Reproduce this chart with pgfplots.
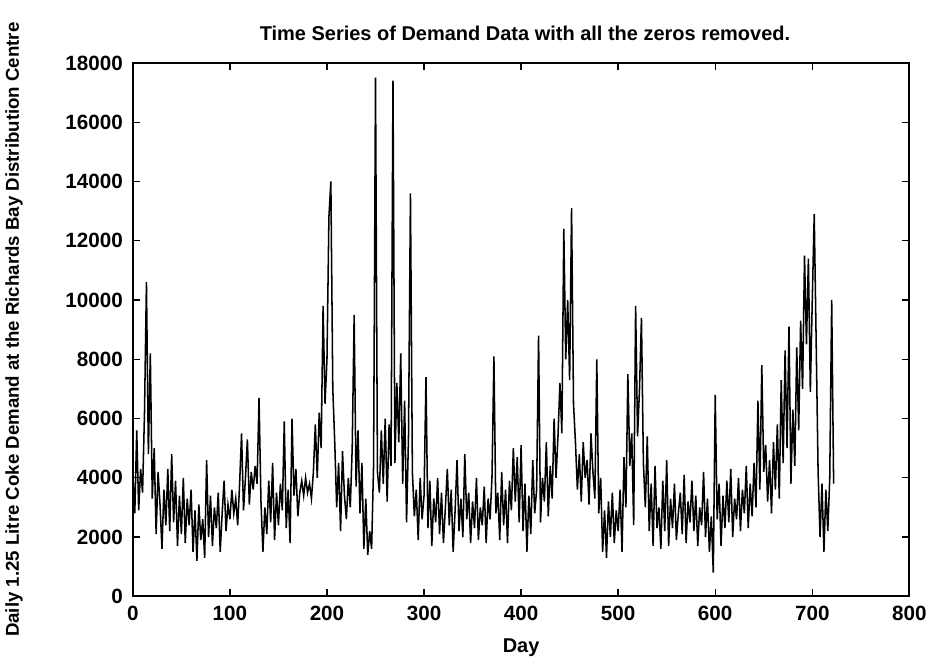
\documentclass[border=0pt]{standalone}
\usepackage{pgfplots}
\pgfplotsset{compat=1.18}
\usepackage{fontspec}
\setmainfont{Liberation Sans}
\begin{document}
\begin{tikzpicture}
\begin{axis}[
  scale only axis,
  width=583pt, height=400.5pt,
  xmin=0, xmax=800, ymin=0, ymax=18000,
  xtick={0,100,...,800}, ytick={0,2000,...,18000},
  scaled y ticks=false,
  /pgf/number format/1000 sep={},
  /pgf/number format/assume math mode=true,
  tick align=inside, major tick length=5.5pt,
  axis line style={line width=1.4pt},
  every tick/.style={line width=1pt,black},
  tick label style={font=\bfseries\fontsize{15.5}{17}\selectfont},
  xticklabel style={yshift=-4pt},
  yticklabel style={xshift=-4pt},
  title={Time Series of Demand Data with all the zeros removed.},
  title style={at={(axis description cs:0.505,1)}, anchor=base, yshift=11pt, font=\bfseries\fontsize{15}{17}\selectfont},
  xlabel={Day},
  xlabel style={at={(axis description cs:0.5,0)}, anchor=base, yshift=-42pt, font=\bfseries\fontsize{15}{17}\selectfont},
  ylabel={Daily 1.25 Litre Coke Demand at the Richards Bay Distribution Centre},
  ylabel style={at={(axis description cs:-0.153,0.5)}, rotate=0, anchor=center, font=\bfseries\fontsize{14}{16}\selectfont},
]
\addplot[black, line width=1.15pt] table {
x y
0 4100
2 2800
4 5600
6 2900
8 4300
10 3500
12 6200
14 10600
16 4800
18 8200
20 3300
22 5000
24 2100
26 4200
28 3100
30 1600
32 3600
34 2400
36 4300
38 2200
40 4800
42 2500
44 3900
46 1700
48 3400
50 2100
52 4000
54 1800
56 3300
58 2400
60 3600
62 1500
64 2900
66 1200
68 3100
70 1900
72 2600
74 1300
76 4600
78 2000
80 3400
82 1700
84 3000
86 2300
88 3500
90 1500
92 2800
94 3900
96 2200
98 3100
100 2600
102 3600
104 2800
106 3300
108 2400
110 3800
112 5500
114 2900
116 4000
118 5300
120 3100
122 4200
124 3600
126 4400
128 3800
130 6700
132 3200
134 1500
136 3000
138 2100
140 3900
142 2500
144 4500
146 1900
148 3500
150 2400
152 3800
154 2900
156 5900
158 2300
160 3600
162 1800
164 6000
166 3400
168 4300
170 2700
172 3500
174 3900
176 3400
178 4000
180 3500
182 3800
184 3300
186 4200
188 5800
190 4000
192 6200
194 5000
196 9800
198 6500
200 8000
202 12800
204 14000
206 7000
208 5200
210 3000
212 4500
214 2200
216 4900
218 3400
220 2600
222 4000
224 3000
226 5000
228 9500
230 3700
232 5600
234 2800
236 4500
238 1600
240 3300
242 1400
244 2200
246 1600
248 4400
250 17500
252 4200
254 3500
256 5600
258 3800
260 6000
262 3200
264 5800
266 4400
268 17400
270 4500
272 7200
274 5200
276 8200
278 3800
280 6600
282 2500
284 5400
286 13600
288 4200
290 2700
292 3600
294 1900
296 4000
298 2600
300 3400
302 7400
304 2300
306 3900
308 1700
310 3300
312 2500
314 4000
316 2100
318 3500
320 1800
322 3000
324 4300
326 2400
328 3600
330 1500
332 2900
334 4600
336 2200
338 3300
340 2000
342 4800
344 2600
346 3500
348 1800
350 3200
352 2300
354 4000
356 1900
358 3000
360 2400
362 3700
364 1800
366 3300
368 2600
370 4000
372 8100
374 2800
376 3500
378 1900
380 4200
382 2400
384 3600
386 1800
388 3900
390 2900
392 5000
394 3200
396 4700
398 2500
400 5100
402 2200
404 3800
406 1500
408 3400
410 2100
412 4600
414 2800
416 3600
418 8800
420 2500
422 4000
424 3200
426 5200
428 2700
430 4400
432 3300
434 6000
436 4000
438 5400
440 7200
442 5500
444 12400
446 8000
448 10000
450 7300
452 13100
454 6500
456 5200
458 3600
460 4800
462 3200
464 5200
466 4000
468 4600
470 3100
472 5500
474 4200
476 3300
478 8000
480 2800
482 4000
484 1500
486 2900
488 1300
490 3200
492 2000
494 3500
496 1800
498 2900
500 2200
502 3600
504 1500
506 4700
508 3000
510 7500
512 4400
514 5500
516 2400
518 9800
520 5400
522 7000
524 9400
526 4500
528 3000
530 5400
532 2200
534 3800
536 1700
538 4400
540 2300
542 3000
544 1600
546 3900
548 2200
550 4600
552 1700
554 3300
556 2300
558 3800
560 1900
562 2800
564 3500
566 2100
568 4100
570 1800
572 3200
574 2500
576 3900
578 2200
580 3400
582 1700
584 3000
586 2400
588 4200
590 2000
592 3300
594 1500
596 2700
598 800
600 6800
602 2600
604 3800
606 1700
608 3400
610 2300
612 3900
614 2500
616 4300
618 2000
620 3300
622 2600
624 4000
626 2200
628 3600
630 2800
632 4400
634 2300
636 3800
638 2700
640 4500
642 3000
644 6600
646 3600
648 7800
650 4200
652 5100
654 3200
656 4600
658 2800
660 5200
662 3600
664 5800
666 3300
668 7300
670 4500
672 8300
674 5000
676 9100
678 3800
680 6300
682 4400
684 8400
686 5600
688 9300
690 7000
692 11500
694 8500
696 11400
698 6900
700 10000
702 12900
704 8600
706 4200
708 2000
710 3800
712 1500
714 3600
716 2200
718 4000
720 10000
722 3800
};
\end{axis}
\path ([xshift=-99.75pt,yshift=-50.25pt]current axis.south west) rectangle ([xshift=15.75pt,yshift=47.25pt]current axis.north east);
\end{tikzpicture}
\end{document}
